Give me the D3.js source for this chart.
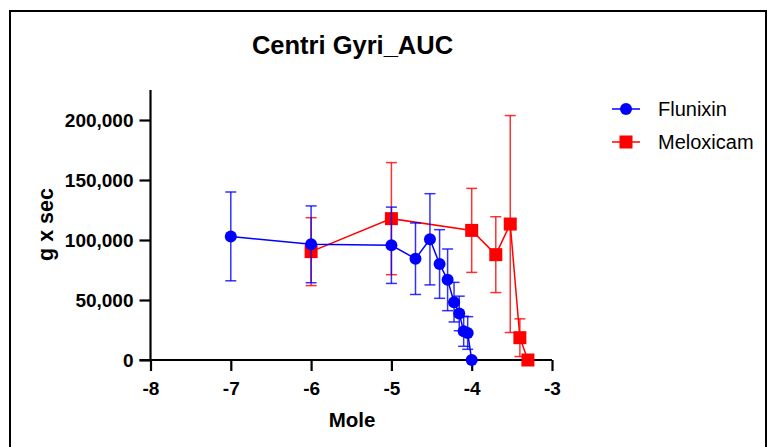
<!DOCTYPE html>
<html>
<head>
<meta charset="utf-8">
<script src="https://cdn.jsdelivr.net/npm/d3@7"></script>
<style>
  html, body { margin: 0; padding: 0; background: #fff; }
  svg { display: block; }
  text { font-family: "Liberation Sans", Arial, sans-serif; fill: #000; }
</style>
</head>
<body>
<svg id="chart" width="768" height="447"></svg>
<script>
const title = "Centri Gyri_AUC";
const xLabel = "Mole";
const yLabel = "g x sec";
const xTicks = [-8, -7, -6, -5, -4, -3];
const yTicks = [0, 50000, 100000, 150000, 200000];

const flunixinX    = [-7, -6, -5, -4.70, -4.52, -4.40, -4.30, -4.22, -4.155, -4.10, -4.05, -4];
const flunixinMean = [103000, 96400, 95600, 84400, 100600, 80000, 66800, 48200, 38800, 23900, 22500, 0];
const flunixinErr  = [37000, 32000, 31800, 29800, 38000, 28600, 25700, 16500, 14400, 12500, 13600, 0];

const meloxicamX    = [-6, -5, -4, -3.70, -3.52, -3.40, -3.30];
const meloxicamMean = [90300, 117800, 108000, 87800, 113300, 18600, 0];
const meloxicamErr  = [28300, 46700, 35000, 31600, 90400, 15700, 0];

const seriesNames = ["Flunixin", "Meloxicam"];
const seriesColors = ["#0000ff", "#ff0000"];

const svg = d3.select("#chart");

// frame
svg.append("rect").attr("x", 10).attr("y", 11).attr("width", 756).attr("height", 450)
  .attr("fill", "none").attr("stroke", "#000").attr("stroke-width", 2);

const x = d3.scaleLinear().domain([-8, -3]).range([150.5, 552]);
const y = d3.scaleLinear().domain([0, 225000]).range([360, 90]);

// title
svg.append("text").attr("x", 352.5).attr("y", 54).attr("text-anchor", "middle")
  .style("font-size", "25.5px").style("font-weight", "bold").text(title);

// axes
const fmt = d3.format(",");
const xAxis = svg.append("g").attr("transform", "translate(0,360)")
  .call(d3.axisBottom(x).tickValues(xTicks).tickFormat(d => String(d)).tickSize(11).tickSizeOuter(0));
const yAxis = svg.append("g").attr("transform", "translate(150.5,0)")
  .call(d3.axisLeft(y).tickValues(yTicks).tickFormat(fmt).tickSize(11).tickSizeOuter(0));
[xAxis, yAxis].forEach(g => {
  g.select(".domain").attr("stroke", "#000").attr("stroke-width", 2.2);
  g.selectAll(".tick line").attr("stroke", "#000").attr("stroke-width", 2.2);
  g.selectAll(".tick text").style("font-size", "19px").style("font-weight", "bold")
    .style("font-family", "'Liberation Sans', Arial, sans-serif").attr("fill", "#000");
});
xAxis.select(".domain").attr("d", `M${x(-8) - 11},0H${x(-3)}`);
xAxis.selectAll(".tick text").attr("dy", "0.71em").attr("y", 22);
yAxis.selectAll(".tick text").attr("x", -17);
yAxis.select(".domain").attr("d", `M0,${y(225000)}V360`);

// axis labels
svg.append("text").attr("x", 352).attr("y", 427).attr("text-anchor", "middle")
  .style("font-size", "20.5px").style("font-weight", "bold").text(xLabel);
svg.append("text").attr("transform", "translate(53,224.5) rotate(-90)").attr("text-anchor", "middle")
  .style("font-size", "21.5px").style("font-weight", "bold").text(yLabel);

function drawSeries(xs, means, errs, color, shape) {
  const data = xs.map((v, i) => ({x: v, m: means[i], e: errs[i]}));
  const g = svg.append("g");
  g.append("path").datum(data)
    .attr("d", d3.line().x(d => x(d.x)).y(d => y(d.m)))
    .attr("fill", "none").attr("stroke", color).attr("stroke-width", 1.5);
  const eb = g.selectAll(".eb").data(data.filter(d => d.e > 0)).join("g");
  eb.append("line").attr("x1", d => x(d.x)).attr("x2", d => x(d.x))
    .attr("y1", d => y(d.m + d.e)).attr("y2", d => y(Math.max(0, d.m - d.e)))
    .attr("stroke", color).attr("stroke-width", 1.5).attr("opacity", 0.8);
  [1, -1].forEach(s => {
    eb.append("line").attr("x1", d => x(d.x) - 5.5).attr("x2", d => x(d.x) + 5.5)
      .attr("y1", d => y(Math.max(0, d.m + s * d.e))).attr("y2", d => y(Math.max(0, d.m + s * d.e)))
      .attr("stroke", color).attr("stroke-width", 1.5).attr("opacity", 0.8);
  });
  if (shape === "circle") {
    g.selectAll(".pt").data(data).join("circle")
      .attr("cx", d => x(d.x)).attr("cy", d => y(d.m)).attr("r", 6).attr("fill", color);
  } else {
    g.selectAll(".pt").data(data).join("rect")
      .attr("x", d => x(d.x) - 6.5).attr("y", d => y(d.m) - 6.5)
      .attr("width", 13).attr("height", 13).attr("fill", color);
  }
}

drawSeries(meloxicamX, meloxicamMean, meloxicamErr, seriesColors[1], "square");
drawSeries(flunixinX, flunixinMean, flunixinErr, seriesColors[0], "circle");

// legend
const legendY = [109, 142];
seriesNames.forEach((name, i) => {
  const g = svg.append("g");
  g.append("line").attr("x1", 612).attr("x2", 640).attr("y1", legendY[i]).attr("y2", legendY[i])
    .attr("stroke", seriesColors[i]).attr("stroke-width", 1.5);
  if (i === 0) g.append("circle").attr("cx", 626).attr("cy", legendY[i]).attr("r", 6).attr("fill", seriesColors[i]);
  else g.append("rect").attr("x", 619.5).attr("y", legendY[i] - 6.5).attr("width", 13).attr("height", 13).attr("fill", seriesColors[i]);
  g.append("text").attr("x", 658).attr("y", legendY[i] + 7).style("font-size", "20px").text(name);
});
</script>
</body>
</html>
